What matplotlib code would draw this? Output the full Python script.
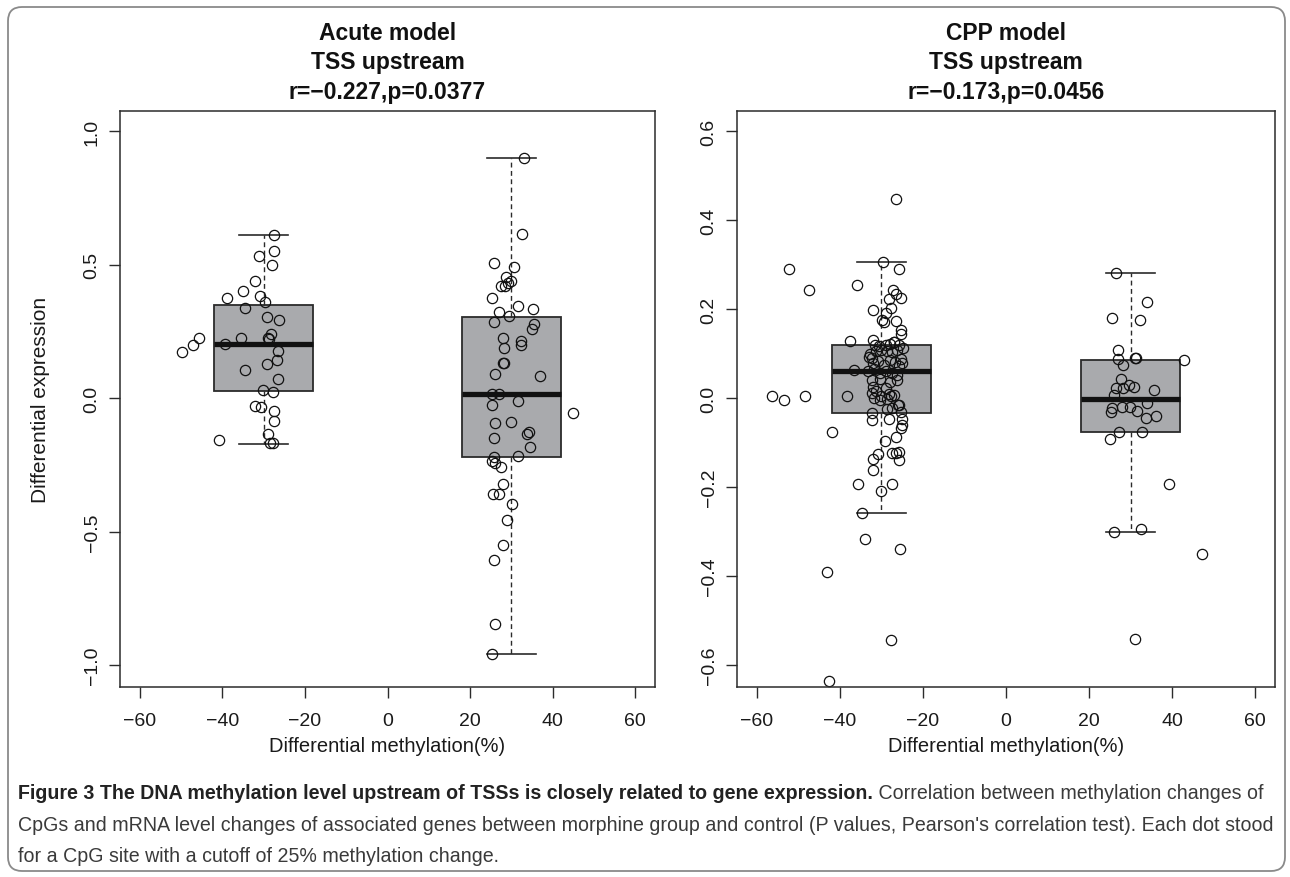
import matplotlib.pyplot as plt
import matplotlib.patches as mpatches
import matplotlib.transforms as mtrans

plt.rcParams['font.family'] = ['Liberation Sans', 'DejaVu Sans']

# ---- data ----
# Acute model, hypo-methylated CpGs
acute_neg_x = [-27.6, -27.6, -31.2, -28.0, -32.2, -34.9, -39.0, -30.8, -29.7, -34.4,
               -29.2, -26.2, -45.7, -47.2, -49.7, -35.5, -28.2, -28.9, -28.7, -39.3,
               -26.5, -26.8, -29.1, -34.4, -26.6, -30.2, -27.7, -32.0, -30.7, -27.6,
               -27.4, -28.9, -40.7, -28.5, -27.8]
acute_neg_y = [0.610, 0.549, 0.531, 0.500, 0.437, 0.400, 0.373, 0.383, 0.361, 0.338,
               0.303, 0.292, 0.224, 0.199, 0.174, 0.226, 0.240, 0.224, 0.221, 0.201,
               0.177, 0.142, 0.126, 0.106, 0.070, 0.029, 0.021, -0.031, -0.035, -0.047,
               -0.085, -0.136, -0.157, -0.170, -0.169]
# Acute model, hyper-methylated CpGs
acute_pos_x = [33.1, 32.7, 25.7, 30.7, 28.7, 29.8, 29.2, 27.6, 28.5, 25.2,
               31.6, 35.2, 27.1, 29.4, 25.8, 35.4, 35.0, 28.1, 32.4, 32.3,
               28.3, 27.9, 28.2, 26.1, 37.0, 25.3, 27.0, 25.3, 31.7, 45.0,
               26.1, 29.8, 34.2, 33.9, 25.9, 34.4, 25.7, 31.6, 25.4, 26.0,
               27.6, 27.9, 25.6, 27.1, 30.2, 28.9, 28.1, 25.7, 26.1, 25.2]
acute_pos_y = [0.899, 0.615, 0.506, 0.490, 0.455, 0.439, 0.430, 0.418, 0.420, 0.375,
               0.345, 0.335, 0.323, 0.306, 0.285, 0.278, 0.258, 0.225, 0.215, 0.199,
               0.188, 0.130, 0.131, 0.091, 0.083, 0.014, 0.014, -0.026, -0.010, -0.057,
               -0.093, -0.090, -0.127, -0.135, -0.151, -0.183, -0.219, -0.218, -0.234, -0.242,
               -0.257, -0.321, -0.361, -0.358, -0.395, -0.456, -0.549, -0.607, -0.846, -0.959]

# CPP model, hypo-methylated CpGs
cpp_neg_x = [-26.4, -29.6, -52.2, -25.7, -47.5, -36.0, -27.3, -26.4, -25.4, -28.3,
             -32.1, -28.8, -27.8, -29.8, -29.5, -26.6, -25.4, -25.3, -37.5, -32.1,
             -27.1, -36.7, -38.3, -56.3, -53.4, -48.5, -32.2, -32.4, -28.2, -25.8,
             -25.4, -25.1, -25.1, -25.4, -41.9, -26.6, -29.2, -30.8, -32.0, -27.5,
             -26.6, -25.8, -25.8, -32.1, -35.7, -27.5, -30.0, -34.7, -33.9, -25.6,
             -43.2, -27.6, -42.7,
             -31.5, -30.5, -29.0, -28.0, -26.9, -25.8, -24.9,
             -32.8, -32.4, -31.3, -30.0, -28.7, -27.5, -26.3, -25.4, -25.0,
             -32.9, -32.0, -30.8, -29.4, -27.9, -26.7, -25.7,
             -33.2, -31.8, -30.4, -28.9, -27.5, -26.2,
             -32.2, -30.4, -26.3, -27.9, -28.9,
             -32.0, -32.4, -31.2, -30.0, -28.3, -27.8, -27.1, -28.7,
             -31.8, -30.4, -28.7, -27.5, -26.1]
cpp_neg_y = [0.448, 0.306, 0.289, 0.290, 0.243, 0.255, 0.243, 0.235, 0.226, 0.222,
             0.199, 0.192, 0.203, 0.175, 0.170, 0.173, 0.154, 0.145, 0.129, 0.130,
             0.127, 0.064, 0.005, 0.005, -0.004, 0.005, -0.034, -0.049, -0.047, -0.016,
             -0.032, -0.047, -0.060, -0.067, -0.076, -0.088, -0.097, -0.125, -0.137, -0.124,
             -0.124, -0.122, -0.140, -0.162, -0.192, -0.192, -0.209, -0.258, -0.316, -0.340,
             -0.391, -0.544, -0.636,
             0.119, 0.116, 0.120, 0.121, 0.127, 0.119, 0.112,
             0.100, 0.089, 0.105, 0.109, 0.105, 0.103, 0.107, 0.088, 0.079,
             0.092, 0.079, 0.083, 0.075, 0.086, 0.080, 0.073,
             0.060, 0.065, 0.056, 0.062, 0.056, 0.052,
             0.041, 0.043, 0.041, 0.037, 0.022,
             0.026, 0.011, 0.015, 0.005, 0.009, 0.004, 0.007, -0.001,
             0.000, -0.004, -0.025, -0.022, -0.015]
# CPP model, hyper-methylated CpGs
cpp_pos_x = [26.5, 33.9, 25.6, 32.2, 26.9, 26.9, 31.1, 31.3, 42.8, 28.1,
             27.8, 26.6, 28.3, 29.7, 30.9, 35.6, 26.0, 33.9, 25.6, 28.0,
             29.9, 25.2, 31.5, 33.8, 36.1, 27.2, 32.7, 25.1, 39.2, 26.1,
             32.5, 47.2, 31.1]
cpp_pos_y = [0.282, 0.216, 0.181, 0.175, 0.108, 0.088, 0.091, 0.089, 0.086, 0.074,
             0.044, 0.022, 0.022, 0.030, 0.025, 0.019, 0.007, -0.010, -0.022, -0.021,
             -0.020, -0.031, -0.028, -0.045, -0.041, -0.076, -0.076, -0.092, -0.193, -0.300,
             -0.293, -0.350, -0.542]

# box summaries (R boxplot hinges)
group_pos = [-30, 30]
acute_box = {'whislo': [-0.172, -0.959], 'q1': [0.026, -0.222], 'med': [0.202, 0.016],
             'q3': [0.348, 0.304], 'whishi': [0.610, 0.899]}
cpp_box = {'whislo': [-0.258, -0.300], 'q1': [-0.033, -0.076], 'med': [0.060, -0.001],
           'q3': [0.119, 0.086], 'whishi': [0.306, 0.282]}

titles = [["Acute model", "TSS upstream", "r=\u22120.227,p=0.0377"],
          ["CPP model", "TSS upstream", "r=\u22120.173,p=0.0456"]]
xticks = [-60, -40, -20, 0, 20, 40, 60]
acute_yticks = [-1.0, -0.5, 0.0, 0.5, 1.0]
cpp_yticks = [-0.6, -0.4, -0.2, 0.0, 0.2, 0.4, 0.6]

W, H = 1290, 878
fig = plt.figure(figsize=(W / 100, H / 100), dpi=100)
fig.patch.set_facecolor('white')

# rounded frame around the whole figure
frame = mpatches.FancyBboxPatch((8, 6), 1277, 864,
                                boxstyle="round,pad=0,rounding_size=14",
                                transform=mtrans.IdentityTransform(),
                                facecolor='none', edgecolor='#8a8a8a', lw=1.3)
fig.add_artist(frame)

ax1 = fig.add_axes([120 / W, 1 - 688 / H, 535 / W, 576 / H])
ax2 = fig.add_axes([737 / W, 1 - 688 / H, 538 / W, 576 / H])

dark = '#2b2b2b'


def draw_panel(ax, box, xs, ys, ylim, yticks, ylabel=None):
    stats = []
    for i in range(2):
        stats.append({'whislo': box['whislo'][i], 'q1': box['q1'][i], 'med': box['med'][i],
                      'q3': box['q3'][i], 'whishi': box['whishi'][i], 'fliers': []})
    ax.bxp(stats, positions=group_pos, widths=24, capwidths=12, showfliers=False,
           patch_artist=True, manage_ticks=False,
           boxprops=dict(facecolor='#a9aaad', edgecolor=dark, lw=1.3),
           medianprops=dict(color='#111111', lw=3.8, solid_capstyle='butt'),
           whiskerprops=dict(color=dark, lw=1.0, linestyle=(0, (3.5, 2.5))),
           capprops=dict(color=dark, lw=1.2))
    for x, y in zip(xs, ys):
        ax.plot(x, y, 'o', ms=7.4, mfc='none', mec='#111111', mew=0.9, ls='none')
    ax.set_xlim(-64.8, 64.8)
    ax.set_ylim(*ylim)
    ax.set_xticks(xticks)
    ax.set_xticklabels([str(t).replace('-', '\u2212') for t in xticks], fontsize=14)
    ax.set_yticks(yticks)
    ax.set_yticklabels([('%.1f' % t).replace('-', '\u2212') for t in yticks],
                       fontsize=14, rotation=90, va='center')
    ax.tick_params(length=8, width=1.0, color=dark, pad=6, labelcolor='#1a1a1a')
    ax.tick_params(axis='x', pad=10)
    for s in ax.spines.values():
        s.set_color(dark)
        s.set_linewidth(1.1)
    ax.set_xlabel("Differential methylation(%)", fontsize=14.5, color='#1a1a1a', labelpad=5)
    if ylabel:
        ax.set_ylabel(ylabel, fontsize=15, color='#1a1a1a', labelpad=24)


draw_panel(ax1, acute_box, [acute_neg_x, acute_pos_x], [acute_neg_y, acute_pos_y],
           (-1.082, 1.075), acute_yticks, "Differential expression")
draw_panel(ax2, cpp_box, [cpp_neg_x, cpp_pos_x], [cpp_neg_y, cpp_pos_y],
           (-0.649, 0.645), cpp_yticks)

# three-line bold titles
for ax, lines in zip([ax1, ax2], titles):
    pos = ax.get_position()
    cx = pos.x0 + pos.width / 2
    for line, ypix in zip(lines, [34, 63, 92]):
        fig.text(cx, 1 - ypix / H, line, ha='center', va='center',
                 fontsize=16.5, fontweight='bold', color='#111111')

# caption
cap_family = ['Liberation Sans Narrow', 'Liberation Sans', 'DejaVu Sans']
bold_part = "Figure 3 The DNA methylation level upstream of TSSs is closely related to gene expression."
rest1 = " Correlation between methylation changes of"
line2 = "CpGs and mRNA level changes of associated genes between morphine group and control (P values, Pearson's correlation test). Each dot stood"
line3 = "for a CpG site with a cutoff of 25% methylation change."
cap_color = '#3a3a3a'
x0 = 18 / W
t2 = fig.text(x0, 1 - 826 / H, line2, fontsize=14, family=cap_family, color=cap_color, va='center')
fig.canvas.draw()
r = fig.canvas.get_renderer()
w2 = t2.get_window_extent(r).width
fs = 14 * 1254 / w2
t2.set_fontsize(fs)
fig.text(x0, 1 - 857 / H, line3, fontsize=fs, family=cap_family, color=cap_color, va='center')
tb = fig.text(x0, 1 - 794 / H, bold_part, fontsize=fs, family=cap_family, fontweight='bold',
              color='#222222', va='center')
fig.canvas.draw()
bb = tb.get_window_extent(r)
fig.text(bb.x1 / W, 1 - 794 / H, rest1, fontsize=fs, family=cap_family, color=cap_color, va='center')

fig.savefig('out.png', dpi=100)
